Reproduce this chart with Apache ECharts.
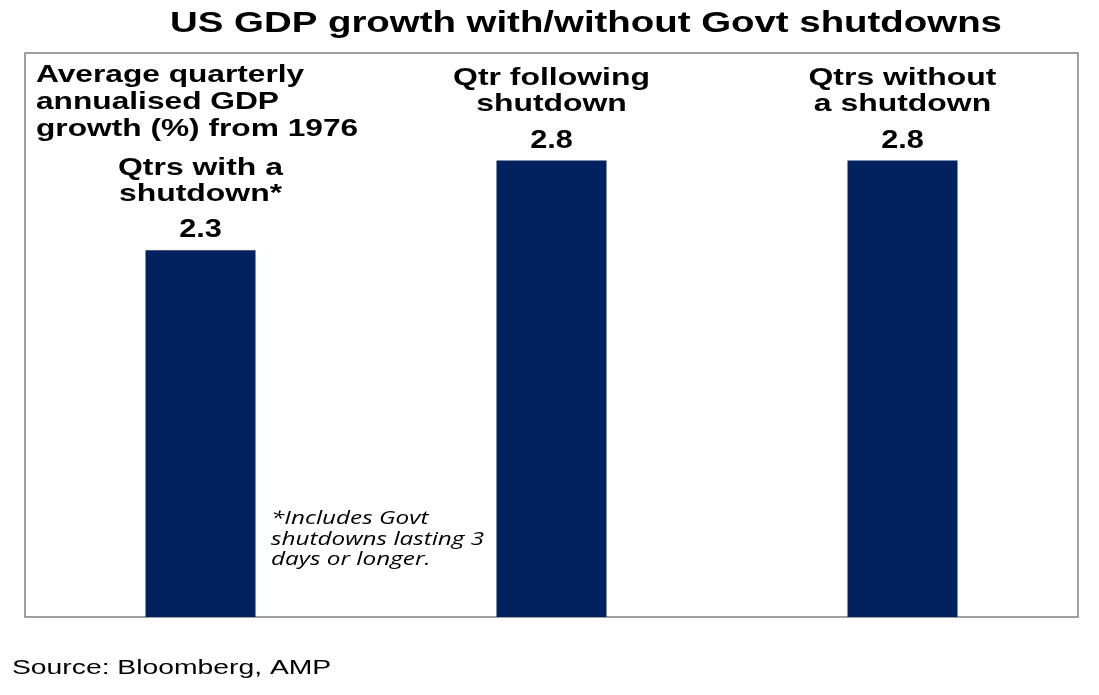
<!DOCTYPE html>
<html>
<head>
<meta charset="utf-8">
<title>US GDP growth with/without Govt shutdowns</title>
<script src="https://cdn.jsdelivr.net/npm/echarts@6/dist/echarts.min.js"></script>
<style>
  html, body { margin: 0; padding: 0; background: #fff; }
  #chart { width: 1099px; height: 695px; }
</style>
</head>
<body>
<div id="chart"></div>
<script>
// values; labels print one decimal
const categories = ["Qtrs with a\nshutdown*", "Qtr following\nshutdown", "Qtrs without\na shutdown"];
const growth = [2.25, 2.8, 2.8];

const TITLE = "US GDP growth with/without Govt shutdowns";
const NOTE = "Average quarterly\nannualised GDP\ngrowth (%) from 1976";
const FOOTNOTE = "*Includes Govt\nshutdowns lasting 3\ndays or longer.";
const SOURCE = "Source: Bloomberg, AMP";

const NAVY = "#02215f";
const INK = "#000000";
const ARIAL = '"Liberation Sans", Arial, sans-serif';

// the original's text is wide (horizontally stretched), so every label gets a scaleX
function wideText(text, x, y, o) {
  return {
    type: "text",
    x: x,
    y: y,
    scaleX: o.scale,
    silent: true,
    z: 10,
    style: {
      text: text,
      font: o.font,
      fill: o.color || INK,
      align: o.align || "center",
      textAlign: o.align || "center",
      verticalAlign: o.valign || "middle",
      textVerticalAlign: o.valign || "middle",
      lineHeight: o.lineHeight,
    },
  };
}

const chart = echarts.init(document.getElementById("chart"), null, { renderer: "canvas" });

chart.setOption({
  animation: false,
  grid: {
    left: 25, right: 21, top: 53, bottom: 78,
    show: true, borderColor: "#808080", borderWidth: 1.5, backgroundColor: "transparent",
  },
  xAxis: { type: "category", data: categories, show: false },
  yAxis: { type: "value", min: 0, max: 3.46, show: false },
  series: [{
    type: "bar",
    data: growth,
    barWidth: 110,
    itemStyle: { color: NAVY },
  }],
});

const graphics = [
  wideText(TITLE, 586, 24, { font: "bold 30px " + ARIAL, scale: 1.28 }),
  wideText(NOTE, 36, 62, { font: "bold 24px " + ARIAL, scale: 1.32, align: "left", valign: "top", lineHeight: 27 }),
  wideText(FOOTNOTE, 271, 509, { font: 'italic 18px "Open Sans", sans-serif', scale: 1.35, align: "left", valign: "top", lineHeight: 20.5 }),
  wideText(SOURCE, 12, 668, { font: "20.5px " + ARIAL, scale: 1.38, align: "left" }),
];

// bar labels placed from the chart's own scales
growth.forEach(function (v, i) {
  const p = chart.convertToPixel({ seriesIndex: 0 }, [i, v]);
  graphics.push(wideText(categories[i], p[0], p[1] - 95, {
    font: "bold 24px " + ARIAL, scale: 1.33, valign: "top", lineHeight: 26,
  }));
  graphics.push(wideText(v.toFixed(1), p[0], p[1] - 20, {
    font: "bold 26px " + ARIAL, scale: 1.18,
  }));
});

chart.setOption({ graphic: graphics });
</script>
</body>
</html>
